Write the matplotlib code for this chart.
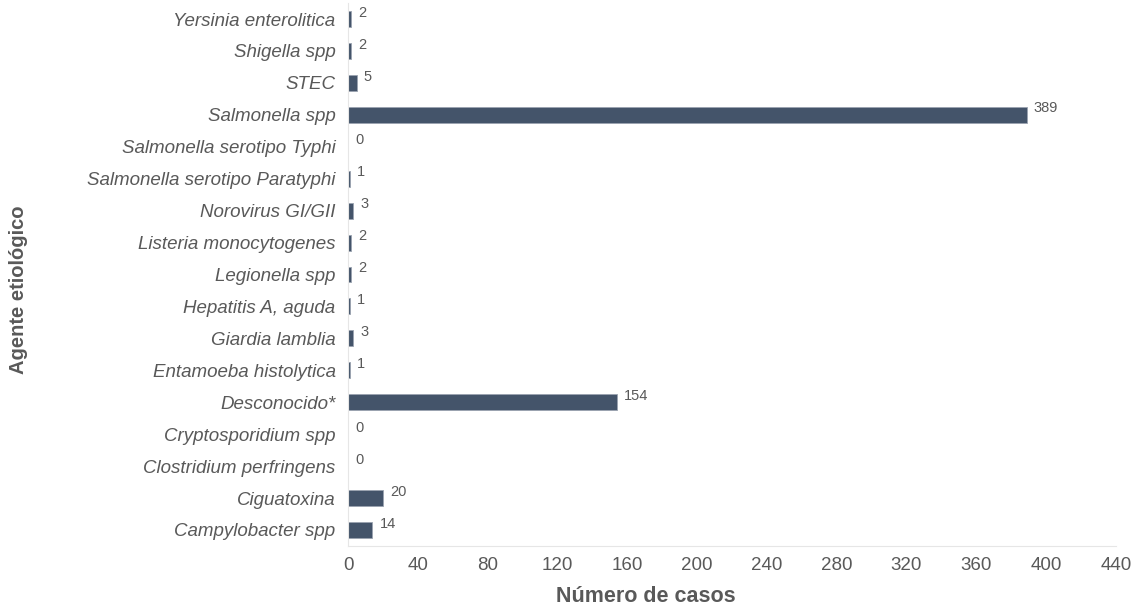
import matplotlib.pyplot as plt

plt.rcParams['font.family'] = ['Liberation Sans', 'DejaVu Sans']

agentes = ['Yersinia enterolitica', 'Shigella spp', 'STEC', 'Salmonella spp',
           'Salmonella serotipo Typhi', 'Salmonella serotipo Paratyphi',
           'Norovirus GI/GII', 'Listeria monocytogenes', 'Legionella spp',
           'Hepatitis A, aguda', 'Giardia lamblia', 'Entamoeba histolytica',
           'Desconocido*', 'Cryptosporidium spp', 'Clostridium perfringens',
           'Ciguatoxina', 'Campylobacter spp']
casos = [2, 2, 5, 389, 0, 1, 3, 2, 2, 1, 3, 1, 154, 0, 0, 20, 14]
xticks = [0, 40, 80, 120, 160, 200, 240, 280, 320, 360, 400, 440]

BAR = '#44546A'
GRIS = '#595959'

fig = plt.figure(figsize=(11.31, 6.10), dpi=100)
ax = fig.add_axes([0.3077, 0.105, 0.679, 0.890])

pos = list(range(len(agentes)))
ax.barh(pos, casos, height=0.5, color=BAR, edgecolor='#9aa3b0', linewidth=0.6)
for y, v in zip(pos, casos):
    ax.text(v + 4, y - 0.2, str(v), fontsize=10.5, color=GRIS, va='center', ha='left')

ax.set_ylim(len(agentes) - 0.5, -0.5)
ax.set_xlim(0, 440)
ax.set_yticks(pos)
ax.set_yticklabels(agentes, fontsize=13.5, style='italic', color=GRIS)
ax.set_xticks(xticks)
ax.set_xticklabels([str(t) for t in xticks], fontsize=13.5, color=GRIS)
ax.tick_params(axis='both', length=0, pad=9)
ax.tick_params(axis='x', pad=8)

for s in ['top', 'right']:
    ax.spines[s].set_visible(False)
ax.spines['left'].set_color('#e6e6e6')
ax.spines['bottom'].set_color('#e6e6e6')

fig.text(0.571, 0.022, 'Número de casos', fontsize=15.5, fontweight='bold',
         color=GRIS, ha='center', va='center')
fig.text(0.016, 0.525, 'Agente etiológico', fontsize=14.5, fontweight='bold',
         color=GRIS, ha='center', va='center', rotation=90)

fig.savefig('out.png', dpi=100)
